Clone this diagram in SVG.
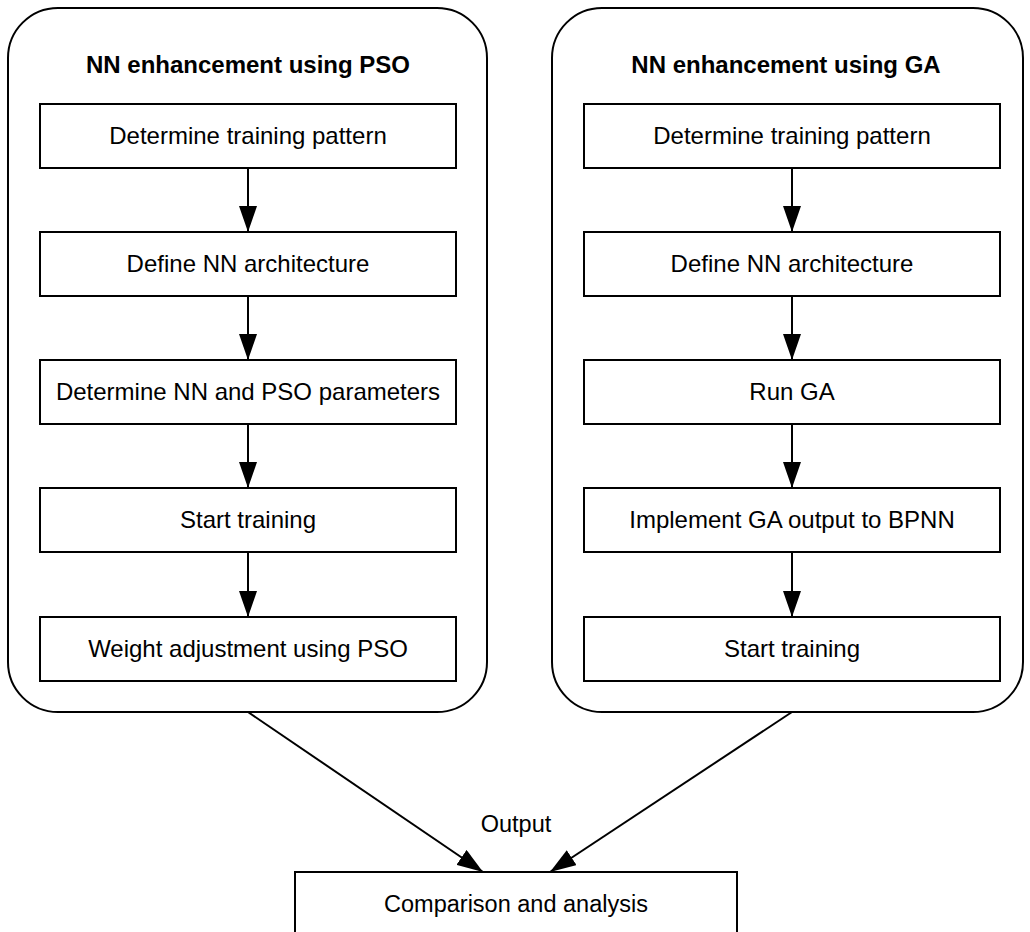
<svg xmlns="http://www.w3.org/2000/svg" width="1030" height="932" viewBox="0 0 1030 932">
<defs>
<style>
.cont{fill:#fff;stroke:#000;stroke-width:2}
.box{fill:#fff;stroke:#000;stroke-width:2}
.t{font-family:"Liberation Sans",Arial,sans-serif;font-size:24px;fill:#000;text-anchor:middle}
.o{font-family:"Liberation Sans",Arial,sans-serif;font-size:23.5px;fill:#000;text-anchor:middle}
.h{font-family:"Liberation Sans",Arial,sans-serif;font-size:24px;font-weight:bold;fill:#000;text-anchor:middle}
.c{stroke:#000;stroke-width:2;fill:none;marker-end:url(#ah)}
</style>
<marker id="ah" markerUnits="userSpaceOnUse" markerWidth="26" markerHeight="18" refX="26" refY="9" orient="auto">
<path d="M0,0 L26,9 L0,18 z" fill="#000"/>
</marker>
</defs>
<rect width="1030" height="932" fill="#fff"/>
<g id="pso-group">
<rect class="cont" x="8" y="8" width="479" height="704" rx="50" ry="50"/>
<text class="h" x="248" y="73">NN enhancement using PSO</text>
</g>
<g id="ga-group">
<rect class="cont" x="552" y="8" width="471" height="704" rx="50" ry="50"/>
<text class="h" x="786" y="73">NN enhancement using GA</text>
</g>
<g id="connectors">
<line class="c" x1="248" y1="168" x2="248" y2="232"/>
<line class="c" x1="248" y1="296" x2="248" y2="360"/>
<line class="c" x1="248" y1="424" x2="248" y2="488"/>
<line class="c" x1="248" y1="552" x2="248" y2="617"/>
<line class="c" x1="792" y1="168" x2="792" y2="232"/>
<line class="c" x1="792" y1="296" x2="792" y2="360"/>
<line class="c" x1="792" y1="424" x2="792" y2="488"/>
<line class="c" x1="792" y1="552" x2="792" y2="617"/>
<line class="c" x1="248" y1="712" x2="483" y2="872"/>
<line class="c" x1="792" y1="712" x2="550" y2="872"/>
<text class="o" x="516" y="832">Output</text>
</g>
<g id="p1"><rect class="box" x="40" y="104" width="416" height="64"/><text class="t" x="248" y="144">Determine training pattern</text></g>
<g id="p2"><rect class="box" x="40" y="232" width="416" height="64"/><text class="t" x="248" y="272">Define NN architecture</text></g>
<g id="p3"><rect class="box" x="40" y="360" width="416" height="64"/><text class="t" x="248" y="400">Determine NN and PSO parameters</text></g>
<g id="p4"><rect class="box" x="40" y="488" width="416" height="64"/><text class="t" x="248" y="528">Start training</text></g>
<g id="p5"><rect class="box" x="40" y="617" width="416" height="64"/><text class="t" x="248" y="657">Weight adjustment using PSO</text></g>
<g id="g1"><rect class="box" x="584" y="104" width="416" height="64"/><text class="t" x="792" y="144">Determine training pattern</text></g>
<g id="g2"><rect class="box" x="584" y="232" width="416" height="64"/><text class="t" x="792" y="272">Define NN architecture</text></g>
<g id="g3"><rect class="box" x="584" y="360" width="416" height="64"/><text class="t" x="792" y="400">Run GA</text></g>
<g id="g4"><rect class="box" x="584" y="488" width="416" height="64"/><text class="t" x="792" y="528">Implement GA output to BPNN</text></g>
<g id="g5"><rect class="box" x="584" y="617" width="416" height="64"/><text class="t" x="792" y="657">Start training</text></g>
<g id="cmp"><rect class="box" x="295" y="872" width="442" height="100"/><text class="o" x="516" y="912">Comparison and analysis</text></g>
</svg>
